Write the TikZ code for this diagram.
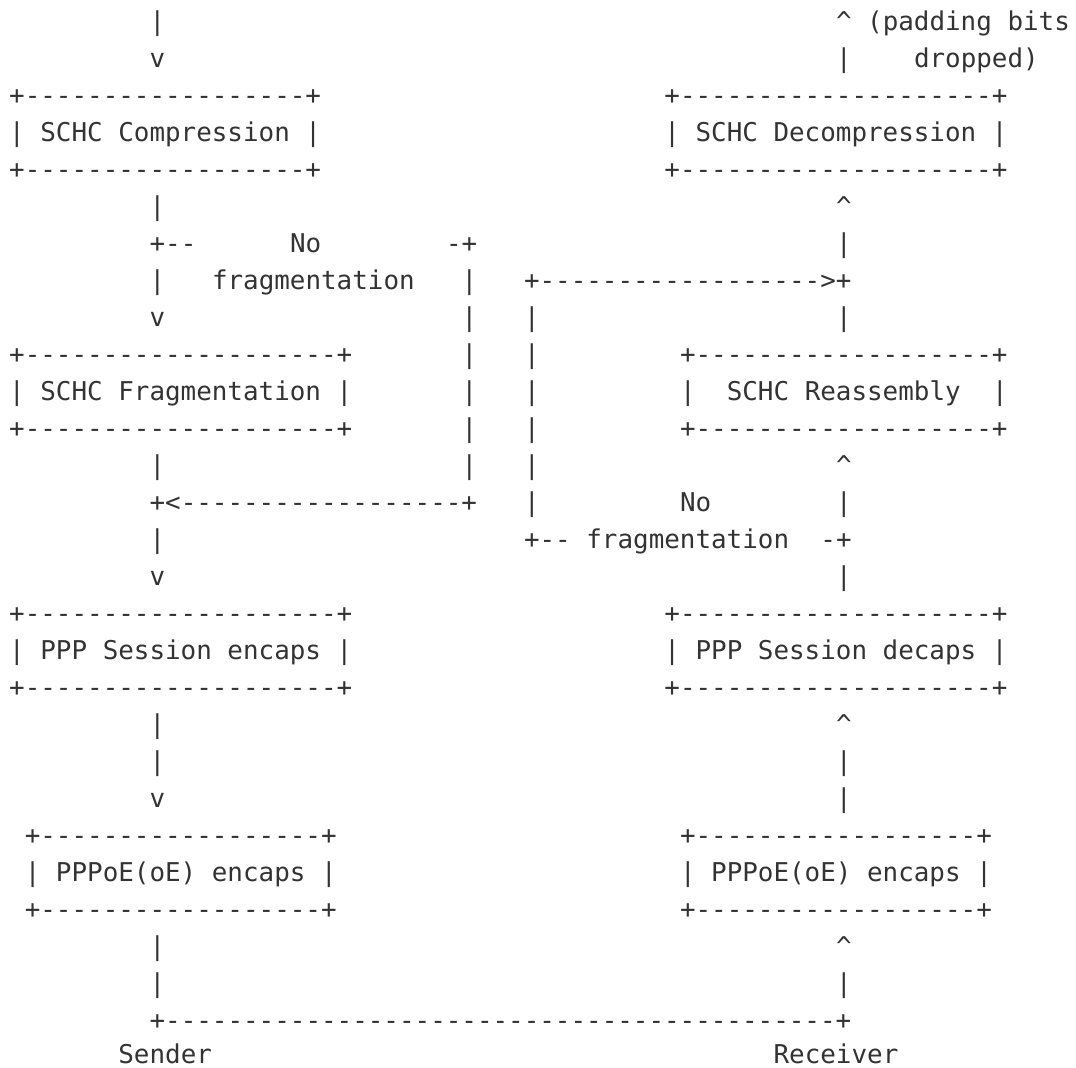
\documentclass[tikz,border=0pt]{standalone}
\usepackage{fontspec}
\setmonofont{DejaVu Sans Mono}
\definecolor{inkgray}{HTML}{333333}
\tikzset{
  ascii/.style={anchor=base west, inner sep=0pt, outer sep=0pt,
    font=\ttfamily\fontsize{12.95pt}{15pt}\selectfont\frenchspacing, text=inkgray}
}
% \at{name}{column}{row}{text}
\newcommand\at[4]{\node[ascii] (#1) at ({9.2+15.6*#2},{30+37*#3}) {#4};}
\def\dd{------}
\begin{document}
\begin{tikzpicture}[x=0.5pt,y=-0.5pt]
\useasboundingbox (0,0) rectangle (1076,1067);
% row 0-1
\at{a0}{9}{0}{|}
\at{b0}{53}{0}{\textasciicircum{} (padding bits}
\at{a1}{9}{1}{v}
\at{b1}{53}{1}{|}
\at{c1}{58}{1}{dropped)}
% SCHC Compression / Decompression boxes
\at{compT}{0}{2}{+\dd\dd\dd+}
\at{compL}{0}{3}{| SCHC Compression |}
\at{compB}{0}{4}{+\dd\dd\dd+}
\at{decT}{42}{2}{+\dd\dd\dd--+}
\at{decL}{42}{3}{| SCHC Decompression |}
\at{decB}{42}{4}{+\dd\dd\dd--+}
% row 5
\at{a5}{9}{5}{|}
\at{b5}{53}{5}{\textasciicircum}
% row 6
\at{a6}{9}{6}{+--}
\at{no1}{18}{6}{No}
\at{c6}{28}{6}{-+}
\at{b6}{53}{6}{|}
% row 7
\at{a7}{9}{7}{|}
\at{fr1}{13}{7}{fragmentation}
\at{c7}{29}{7}{|}
\at{arr7}{33}{7}{+\dd\dd\dd>+}
% row 8
\at{a8}{9}{8}{v}
\at{c8}{29}{8}{|}
\at{d8}{33}{8}{|}
\at{b8}{53}{8}{|}
% Fragmentation / Reassembly boxes
\at{fragT}{0}{9}{+\dd\dd\dd--+}
\at{fragL}{0}{10}{| SCHC Fragmentation |}
\at{fragB}{0}{11}{+\dd\dd\dd--+}
\at{c9}{29}{9}{|}
\at{d9}{33}{9}{|}
\at{c10}{29}{10}{|}
\at{d10}{33}{10}{|}
\at{c11}{29}{11}{|}
\at{d11}{33}{11}{|}
\at{reaT}{43}{9}{+\dd\dd\dd-+}
\at{reaL}{43}{10}{|}
\at{reaX}{46}{10}{SCHC Reassembly}
\at{reaR}{63}{10}{|}
\at{reaB}{43}{11}{+\dd\dd\dd-+}
% row 12
\at{a12}{9}{12}{|}
\at{c12}{29}{12}{|}
\at{d12}{33}{12}{|}
\at{b12}{53}{12}{\textasciicircum}
% row 13
\at{arr13}{9}{13}{+<\dd\dd\dd+}
\at{d13}{33}{13}{|}
\at{no2}{43}{13}{No}
\at{b13}{53}{13}{|}
% row 14
\at{a14}{9}{14}{|}
\at{d14}{33}{14}{+--}
\at{fr2}{37}{14}{fragmentation}
\at{b14}{52}{14}{-+}
% row 15
\at{a15}{9}{15}{v}
\at{b15}{53}{15}{|}
% PPP Session boxes
\at{pppT}{0}{16}{+\dd\dd\dd--+}
\at{pppL}{0}{17}{| PPP Session encaps |}
\at{pppB}{0}{18}{+\dd\dd\dd--+}
\at{pdT}{42}{16}{+\dd\dd\dd--+}
\at{pdL}{42}{17}{| PPP Session decaps |}
\at{pdB}{42}{18}{+\dd\dd\dd--+}
% rows 19-21
\at{a19}{9}{19}{|}
\at{b19}{53}{19}{\textasciicircum}
\at{a20}{9}{20}{|}
\at{b20}{53}{20}{|}
\at{a21}{9}{21}{v}
\at{b21}{53}{21}{|}
% PPPoE boxes
\at{poeT}{1}{22}{+\dd\dd\dd+}
\at{poeL}{1}{23}{| PPPoE(oE) encaps |}
\at{poeB}{1}{24}{+\dd\dd\dd+}
\at{prT}{43}{22}{+\dd\dd\dd+}
\at{prL}{43}{23}{| PPPoE(oE) encaps |}
\at{prB}{43}{24}{+\dd\dd\dd+}
% rows 25-28
\at{a25}{9}{25}{|}
\at{b25}{53}{25}{\textasciicircum}
\at{a26}{9}{26}{|}
\at{b26}{53}{26}{|}
\at{link}{9}{27}{+\dd\dd\dd\dd\dd\dd\dd-+}
\node[ascii] (snd) at ({9.2+15.6*7},1063) {Sender};
\node[ascii] (rcv) at ({9.2+15.6*49},1063) {Receiver};
\end{tikzpicture}
\end{document}
